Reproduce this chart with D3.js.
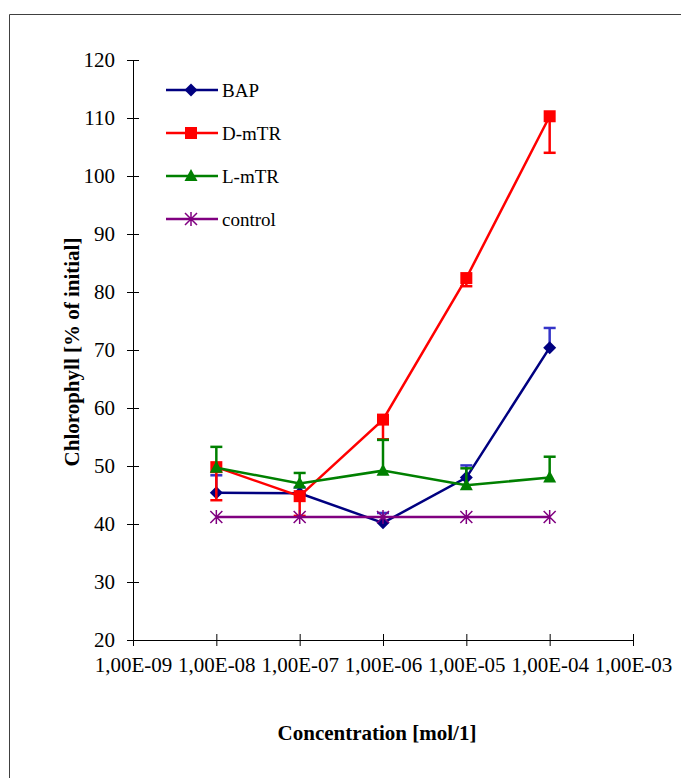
<!DOCTYPE html>
<html lang="en">
<head>
<meta charset="UTF-8">
<title>Chlorophyll</title>
<script src="https://d3js.org/d3.v7.min.js"></script>
<style>
    body { margin: 0; background: #fff; }
    svg { display: block; }
    .tick text { font-family: "Liberation Serif", "Times New Roman", serif; font-size: 21px; fill: #000; }
    .title { font-family: "Liberation Serif", "Times New Roman", serif; font-size: 21px; font-weight: bold; }
    .legend text { font-family: "Liberation Serif", "Times New Roman", serif; font-size: 19px; }
</style>
</head>
<body>
<svg width="681" height="778"></svg>
<script>
    // data
    const concentrations = [1e-8, 1e-7, 1e-6, 1e-5, 1e-4];
    const xTicks = [1e-9, 1e-8, 1e-7, 1e-6, 1e-5, 1e-4, 1e-3];
    const yTicks = [20, 30, 40, 50, 60, 70, 80, 90, 100, 110, 120];

    const bap = [45.4, 45.3, 40.2, 48.0, 70.4];
    const bapErr = [48.4, 46.3, 41.9, 50.1, 73.8];
    const dmtr = [49.8, 44.8, 58.0, 82.4, 110.3];
    const dmtrErr = [44.1, 41.4, 54.6, 81.0, 104.0];
    const lmtr = [49.7, 47.0, 49.2, 46.7, 48.0];
    const lmtrErr = [53.3, 48.8, 54.5, 49.6, 51.6];
    const control = [41.2, 41.2, 41.2, 41.2, 41.2];

    const series = [
        { name: "BAP", values: bap, err: bapErr, color: "#000080", errColor: "#3535c8", marker: "diamond" },
        { name: "D-mTR", values: dmtr, err: dmtrErr, color: "#ff0000", errColor: "#ff0000", marker: "square" },
        { name: "L-mTR", values: lmtr, err: lmtrErr, color: "#008000", errColor: "#008000", marker: "triangle" },
        { name: "control", values: control, err: null, color: "#800080", errColor: "#800080", marker: "star" }
    ];

    const svg = d3.select("svg");

    // outer frame (runs off the right and bottom edges)
    svg.append("path")
        .attr("d", "M9.5,790 V14.5 H700")
        .attr("fill", "none")
        .attr("stroke", "#404040")
        .attr("stroke-width", 1);

    const x = d3.scaleLog().domain([1e-9, 1e-3]).range([133, 633]);
    const y = d3.scaleLinear().domain([20, 120]).range([640, 60]);

    const fmt = v => "1,00E-" + String(Math.round(-Math.log10(v))).padStart(2, "0");

    // axes with crossing tick marks
    const xAxis = svg.append("g")
        .attr("transform", "translate(0,640)")
        .call(d3.axisBottom(x).tickValues(xTicks).tickFormat(fmt).tickSize(6).tickPadding(11));
    xAxis.selectAll(".tick line").attr("y1", -6).attr("y2", 6);

    const yAxis = svg.append("g")
        .attr("transform", "translate(133,0)")
        .call(d3.axisLeft(y).tickValues(yTicks).tickSize(6).tickPadding(12));
    yAxis.selectAll(".tick line").attr("x1", -6).attr("x2", 6);

    svg.selectAll(".domain").attr("stroke", "#000");
    svg.selectAll(".tick line").attr("stroke", "#000");

    // axis titles
    svg.append("text")
        .attr("class", "title")
        .attr("transform", "translate(79,352) rotate(-90)")
        .attr("text-anchor", "middle")
        .text("Chlorophyll [% of initial]");

    svg.append("text")
        .attr("class", "title")
        .attr("x", 377)
        .attr("y", 740)
        .attr("text-anchor", "middle")
        .text("Concentration [mol/1]");

    // marker drawing
    function drawMarker(g, type, color) {
        if (type === "diamond") {
            g.append("path").attr("d", "M0,-6.5 L6.5,0 L0,6.5 L-6.5,0 Z").attr("fill", color);
        } else if (type === "square") {
            g.append("rect").attr("x", -6).attr("y", -6).attr("width", 12).attr("height", 12).attr("fill", color);
        } else if (type === "triangle") {
            g.append("path").attr("d", "M0,-7 L6.5,5 L-6.5,5 Z").attr("fill", color);
        } else {
            const s = 6;
            g.append("path")
                .attr("d", `M${-s},${-s} L${s},${s} M${-s},${s} L${s},${-s} M0,${-s - 1} L0,${s + 1}`)
                .attr("stroke", color).attr("stroke-width", 1.5).attr("fill", "none");
        }
    }

    const line = d3.line().x(d => x(d[0])).y(d => y(d[1]));

    series.forEach(s => {
        const g = svg.append("g");
        const pts = concentrations.map((c, i) => [c, s.values[i]]);

        // error bars
        if (s.err) {
            concentrations.forEach((c, i) => {
                const cx = x(c);
                g.append("line")
                    .attr("x1", cx).attr("x2", cx)
                    .attr("y1", y(s.values[i])).attr("y2", y(s.err[i]))
                    .attr("stroke", s.errColor).attr("stroke-width", 2.5);
                g.append("line")
                    .attr("x1", cx - 6).attr("x2", cx + 6)
                    .attr("y1", y(s.err[i])).attr("y2", y(s.err[i]))
                    .attr("stroke", s.errColor).attr("stroke-width", 2.5);
            });
        }

        g.append("path")
            .datum(pts)
            .attr("d", line)
            .attr("fill", "none")
            .attr("stroke", s.color)
            .attr("stroke-width", 2.5);

        pts.forEach(p => {
            const m = g.append("g").attr("transform", `translate(${x(p[0])},${y(p[1])})`);
            drawMarker(m, s.marker, s.color);
        });
    });

    // legend
    const legend = svg.append("g").attr("class", "legend");
    const legendY = d3.scalePoint().domain(series.map(s => s.name)).range([90, 219]);
    series.forEach(s => {
        const ly = legendY(s.name);
        legend.append("line")
            .attr("x1", 166).attr("x2", 218)
            .attr("y1", ly).attr("y2", ly)
            .attr("stroke", s.color).attr("stroke-width", 2.5);
        const m = legend.append("g").attr("transform", `translate(191,${ly})`);
        drawMarker(m, s.marker, s.color);
        legend.append("text")
            .attr("x", 222).attr("y", ly + 6.5)
            .text(s.name);
    });
</script>
</body>
</html>
